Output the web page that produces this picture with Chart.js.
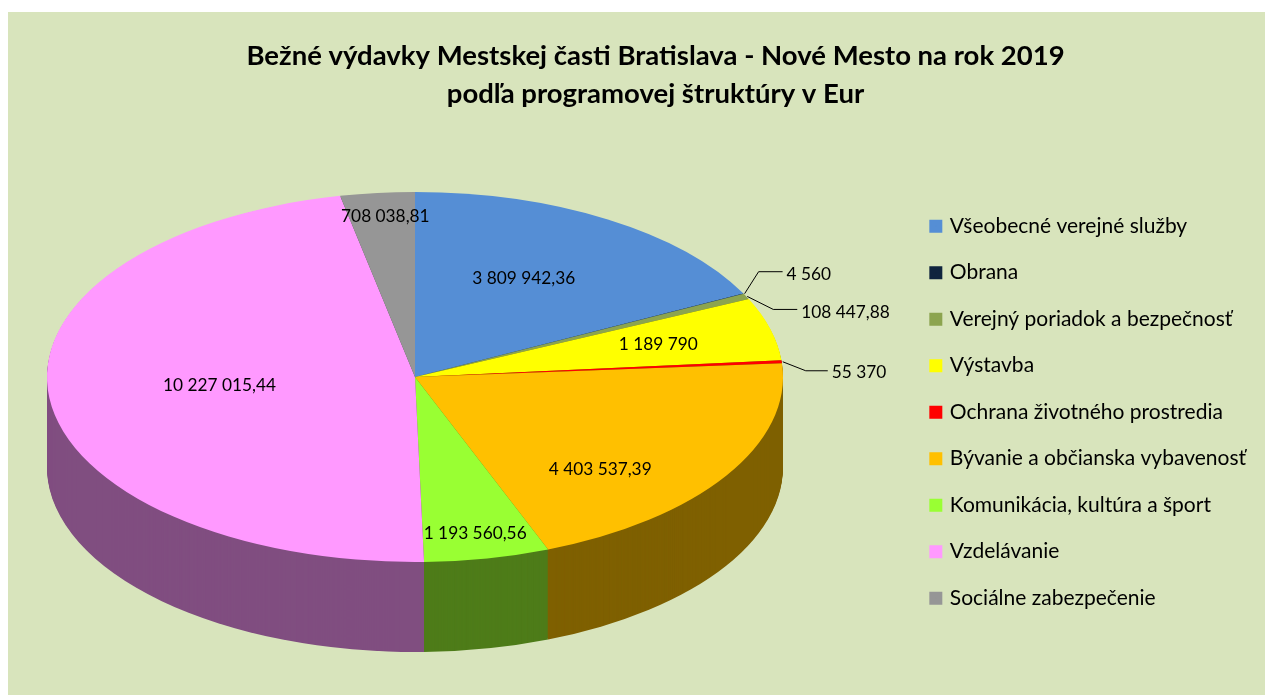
<!DOCTYPE html>
<html lang="sk">
<head>
<meta charset="utf-8">
<title>Bežné výdavky</title>
<script src="https://cdn.jsdelivr.net/npm/chart.js@4/dist/chart.umd.min.js"></script>
<style>
  html, body { margin: 0; background: #fff; overflow: hidden; }
  #chart { position: absolute; left: 8px; top: 12px; display: block; background: #d8e4bc; }
</style>
</head>
<body>
<canvas id="chart" width="1257" height="683"></canvas>
<script>
const titleLines = ['Bežné výdavky Mestskej časti Bratislava - Nové Mesto na rok 2019', 'podľa programovej štruktúry v Eur'];
const categories = ['Všeobecné verejné služby', 'Obrana', 'Verejný poriadok a bezpečnosť', 'Výstavba', 'Ochrana životného prostredia', 'Bývanie a občianska vybavenosť', 'Komunikácia, kultúra a šport', 'Vzdelávanie', 'Sociálne zabezpečenie'];
const values = [3809942.36, 4560, 108447.88, 1189790, 55370, 4403537.39, 1193560.56, 10227015.44, 708038.81];
const valueLabels = ['3 809 942,36', '4 560', '108 447,88', '1 189 790', '55 370', '4 403 537,39', '1 193 560,56', '10 227 015,44', '708 038,81'];
const topColors = ['#558ed5', '#0f243e', '#8ca44f', '#ffff00', '#ff0000', '#ffc000', '#99ff33', '#ff99ff', '#969696'];
const sideColors = ['#2a476a', '#07121f', '#465227', '#7f7f00', '#7f0000', '#7f6000', '#4e7c19', '#804e80', '#4b4b4b'];

// where the flattened pie goes on the canvas
const pie3d = { cx: 407, cy: 365, rx: 368, ry: 185, depth: 90 };

// label position relative to the slice's outer edge; leader = elbow offset + run length + label drop
const labelOffsets = [[-84, 59], null, null, [-112, 15], null, [-126, -6], [-12, -25], [170, -13], [8, 23]];
const leaders = { 1: [15, -22, 24, 3], 2: [27, 13, 24, 3], 4: [24, 9, 22, 2] };

function flatten(ctx, arc) {
    const scaleX = pie3d.rx / arc.outerRadius;
    const scaleY = pie3d.ry / arc.outerRadius;
    ctx.translate(pie3d.cx, pie3d.cy);
    ctx.scale(scaleX, scaleY);
    ctx.translate(-arc.x, -arc.y);
}

const pie3dPlugin = {
    id: 'pie3d',
    beforeDatasetsDraw(chart) {
        const ctx = chart.ctx;
        const arcs = chart.getDatasetMeta(0).data;
        // stack of dark slices makes the wall, deepest first
        for (let d = pie3d.depth; d > 0; d--) {
            arcs.forEach((arc, i) => {
                ctx.save();
                ctx.translate(0, d);
                flatten(ctx, arc);
                ctx.beginPath();
                ctx.moveTo(arc.x, arc.y);
                ctx.arc(arc.x, arc.y, arc.outerRadius, arc.startAngle, arc.endAngle);
                ctx.closePath();
                ctx.fillStyle = sideColors[i];
                ctx.fill();
                ctx.restore();
            });
        }
        ctx.save();
        flatten(ctx, arcs[0]);
    },
    afterDatasetsDraw(chart) {
        const ctx = chart.ctx;
        ctx.restore();
        const arcs = chart.getDatasetMeta(0).data;
        ctx.save();
        ctx.font = '17.3px Lato';
        ctx.fillStyle = '#000';
        ctx.textBaseline = 'middle';
        arcs.forEach((arc, i) => {
            const mid = (arc.startAngle + arc.endAngle) / 2;
            const edgeX = pie3d.cx + pie3d.rx * Math.cos(mid);
            const edgeY = pie3d.cy + pie3d.ry * Math.sin(mid);
            if (leaders[i]) {
                const [dx, dy, run, drop] = leaders[i];
                ctx.beginPath();
                ctx.moveTo(edgeX + 1, edgeY);
                ctx.lineTo(edgeX + dx, edgeY + dy);
                ctx.lineTo(edgeX + dx + run, edgeY + dy);
                ctx.strokeStyle = '#000';
                ctx.lineWidth = 1;
                ctx.stroke();
                ctx.textAlign = 'left';
                ctx.fillText(valueLabels[i], edgeX + dx + run + 4, edgeY + dy + drop);
            } else {
                ctx.textAlign = 'center';
                ctx.fillText(valueLabels[i], edgeX + labelOffsets[i][0], edgeY + labelOffsets[i][1]);
            }
        });
        ctx.restore();
    }
};

new Chart(document.getElementById('chart'), {
    type: 'pie',
    data: {
        labels: categories,
        datasets: [{
            data: values,
            backgroundColor: topColors,
            borderWidth: 0,
            clip: false
        }]
    },
    options: {
        responsive: false,
        animation: false,
        layout: { padding: { left: 47, right: 9, top: 0, bottom: 0 } },
        plugins: {
            title: {
                display: true,
                text: titleLines,
                color: '#000',
                font: { family: 'Lato', size: 27.5, weight: 'bold', lineHeight: 1.35 },
                padding: { top: 26, bottom: 17 }
            },
            legend: {
                position: 'right',
                fullSize: false,
                labels: {
                    color: '#000',
                    font: { family: 'Lato', size: 21 },
                    // narrow box with a thick same-colour outline, keeps the text close to the swatch
                    boxWidth: 7,
                    boxHeight: 7,
                    padding: 25.5,
                    generateLabels(chart) {
                        return Chart.overrides.pie.plugins.legend.labels.generateLabels(chart).map((item, i) => ({
                            ...item,
                            strokeStyle: topColors[i],
                            lineWidth: 6
                        }));
                    }
                }
            },
            tooltip: { enabled: false }
        }
    },
    plugins: [pie3dPlugin]
});
</script>
</body>
</html>
